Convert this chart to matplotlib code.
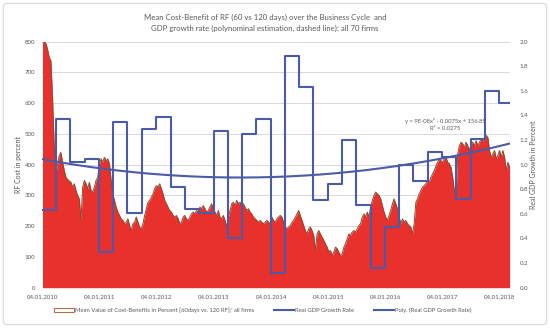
import numpy as np
import pandas as pd
import matplotlib
matplotlib.use("Agg")
import matplotlib.pyplot as plt
import matplotlib.dates as mdates
from matplotlib.patches import FancyBboxPatch, Patch
from matplotlib.lines import Line2D

plt.rcParams["font.family"] = ["Lato", "DejaVu Sans"]

# Mean cost-benefit of RF (60 vs 120 days), readings from 2010-01-04 to 2018-03-07
cost_start = "2010-01-04"
cost_end = "2018-03-07"
cost_values = [
    800, 800, 795, 776, 749, 738, 620, 457, 375, 400, 430, 440, 408, 381, 359, 352, 347, 343,
    327, 338, 316, 300, 289, 220, 327, 349, 338, 322, 343, 316, 311, 327, 349, 359, 403, 419,
    408, 424, 413, 419, 403, 349, 305, 284, 262, 246, 235, 224, 219, 208, 213, 224, 202, 186,
    208, 213, 230, 213, 197, 192, 208, 235, 257, 278, 284, 294, 305, 322, 332, 327, 338, 322,
    305, 284, 273, 262, 251, 246, 235, 230, 235, 224, 208, 213, 230, 235, 224, 219, 230, 240,
    246, 240, 251, 246, 262, 257, 267, 257, 246, 251, 262, 273, 257, 246, 235, 251, 230, 224,
    235, 219, 197, 230, 251, 273, 278, 267, 284, 273, 278, 262, 273, 262, 251, 257, 246, 240,
    230, 224, 219, 213, 219, 213, 208, 213, 219, 213,
    208, 230, 219, 213, 224, 230, 235, 230, 213, 197, 192, 197, 202, 213, 219, 230, 240, 251,
    235, 219, 202, 186, 175, 192, 197, 186, 170, 121, 175, 186, 175, 164, 154, 143, 132, 116,
    121, 105, 116, 132, 127, 116, 105, 110, 132, 143, 159, 175, 170, 181, 186, 181, 192, 202,
    208, 230, 240, 230, 246, 230, 262, 284, 300, 311, 305, 300, 289, 267, 246, 230, 219, 235,
    251, 273, 289, 273, 257, 230, 208, 224, 213, 219, 208, 202, 197, 175, 208, 278, 289, 305,
    316, 327, 332, 338, 349, 343, 359, 370, 381, 397, 408, 419, 413, 408, 419, 424, 408, 403,
    392, 359, 316, 294, 435, 462, 473, 468, 457, 473, 462, 446, 468, 473, 462, 478, 462, 473,
    484, 478, 489, 495, 489, 446, 424, 435, 446, 419, 430, 446, 424, 446, 424, 381, 408, 392,
]

# Real GDP growth rate per quarter, Q1 2010 .. Q1 2018
gdp_quarters = [
    "2010-01-04", "2010-04-01", "2010-07-01", "2010-10-01",
    "2011-01-01", "2011-04-01", "2011-07-01", "2011-10-01",
    "2012-01-01", "2012-04-01", "2012-07-01", "2012-10-01",
    "2013-01-01", "2013-04-01", "2013-07-01", "2013-10-01",
    "2014-01-01", "2014-04-01", "2014-07-01", "2014-10-01",
    "2015-01-01", "2015-04-01", "2015-07-01", "2015-10-01",
    "2016-01-01", "2016-04-01", "2016-07-01", "2016-10-01",
    "2017-01-01", "2017-04-01", "2017-07-01", "2017-10-01",
    "2018-01-01",
]
gdp_growth = [
    0.63, 1.37, 1.02, 1.05,
    0.29, 1.35, 0.61, 1.29,
    1.39, 0.82, 0.64, 0.61,
    1.27, 0.40, 1.25, 1.37,
    0.12, 1.88, 1.63, 0.71,
    0.84, 1.20, 0.67, 0.16,
    0.49, 1.00, 0.87, 1.10,
    1.06, 0.72, 1.21, 1.60,
    1.50,
]

tick_dates = ["2010-01-04", "2011-01-04", "2012-01-04", "2013-01-04", "2014-01-04",
              "2015-01-04", "2016-01-04", "2017-01-04", "2018-01-04"]

title = ("Mean Cost-Benefit of RF (60 vs 120 days) over the Business Cycle  and\n"
         "GDP growth rate (polynominal estimation, dashed line); all 70 firms")
trend_label = "y = 9E-08x\u00b2 - 0.0075x + 156.85\nR\u00b2 = 0.0275"

text_color = "#595959"
red = "#e8302d"
edge = "#8c4a2f"
blue = "#4a5ba8"

dates = pd.date_range(cost_start, cost_end, periods=len(cost_values))
q_dates = pd.to_datetime(gdp_quarters)

# daily GDP series for the polynomial trend (like Excel's trendline)
days = pd.date_range(cost_start, cost_end, freq="D")
idx = np.searchsorted(q_dates.values, days.values, side="right") - 1
daily_gdp = np.array(gdp_growth)[idx]
serial = (days - pd.Timestamp("1899-12-30")).days.values.astype(float)
coef = np.polyfit(serial, daily_gdp, 2)
trend = np.polyval(coef, serial)

fig = plt.figure(figsize=(5.5, 3.28), dpi=100)
border = FancyBboxPatch((0.006, 0.01), 0.988, 0.98, boxstyle="round,pad=0,rounding_size=0.01",
                        transform=fig.transFigure, facecolor="white", edgecolor="#d9d9d9", lw=0.8,
                        zorder=-10)
fig.patches.append(border)
ax = fig.add_axes([0.0764, 0.1229, 0.851, 0.750])
ax.set_facecolor("none")
ax2 = ax.twinx()

ax.fill_between(dates, cost_values, 0, color=red, lw=0, zorder=2)
ax.plot(dates, cost_values, color=edge, lw=0.7, zorder=3)
ax.set_ylim(0, 800)
ax.set_yticks(range(0, 801, 100))
ax.grid(axis="y", color="#d9d9d9", lw=0.7, zorder=0)
ax.set_axisbelow(True)

step_x = list(q_dates) + [pd.Timestamp(cost_end)]
step_y = gdp_growth + [gdp_growth[-1]]
ax2.plot(step_x, step_y, drawstyle="steps-post", color=blue, lw=1.5)
ax2.plot(days, trend, color=blue, lw=1.5)
ax2.set_ylim(0, 2.0)
ax2.set_yticks(np.arange(0, 2.01, 0.2))
ax2.yaxis.set_major_formatter(matplotlib.ticker.FormatStrFormatter("%.1f"))

ax.set_xlim(pd.Timestamp("2010-01-01"), pd.Timestamp("2018-03-10"))
ax.set_xticks(pd.to_datetime(tick_dates))
ax.xaxis.set_major_formatter(mdates.DateFormatter("%d.%m.%Y"))

for a in (ax, ax2):
    for s in a.spines.values():
        s.set_visible(False)
    a.tick_params(length=0, labelsize=4.4, colors=text_color)
ax.tick_params(axis="x", pad=5)
ax.tick_params(axis="y", pad=5)
ax2.tick_params(axis="y", pad=7)

ax.set_ylabel("RF Cost in percent", fontsize=5, color=text_color, labelpad=2)
ax2.set_ylabel("Real GDP Growth in Percent", fontsize=5, color=text_color, labelpad=1)

fig.text(0.482, 0.93, title, ha="center", va="center", fontsize=5.6, color=text_color, linespacing=1.65)
fig.text(0.81, 0.62, trend_label, ha="center", va="center", fontsize=4.2, color=text_color, linespacing=1.5)

handles = [
    Patch(facecolor="white", edgecolor="#b0704f", lw=0.8),
    Line2D([], [], color=blue, lw=1.5),
    Line2D([], [], color=blue, lw=1.5),
]
labels = [
    "Mean Value of Cost-Benefits in Percent [60days vs. 120 RF];' all firms",
    "Real GDP Growth Rate",
    "Poly. (Real GDP Growth Rate)",
]
fig.legend(handles, labels, loc="center", bbox_to_anchor=(0.478, 0.055), ncol=3, frameon=False,
           fontsize=4.2, labelcolor=text_color, handlelength=3.4, handletextpad=0.3, columnspacing=3.3)

fig.savefig("out.png", dpi=100)
